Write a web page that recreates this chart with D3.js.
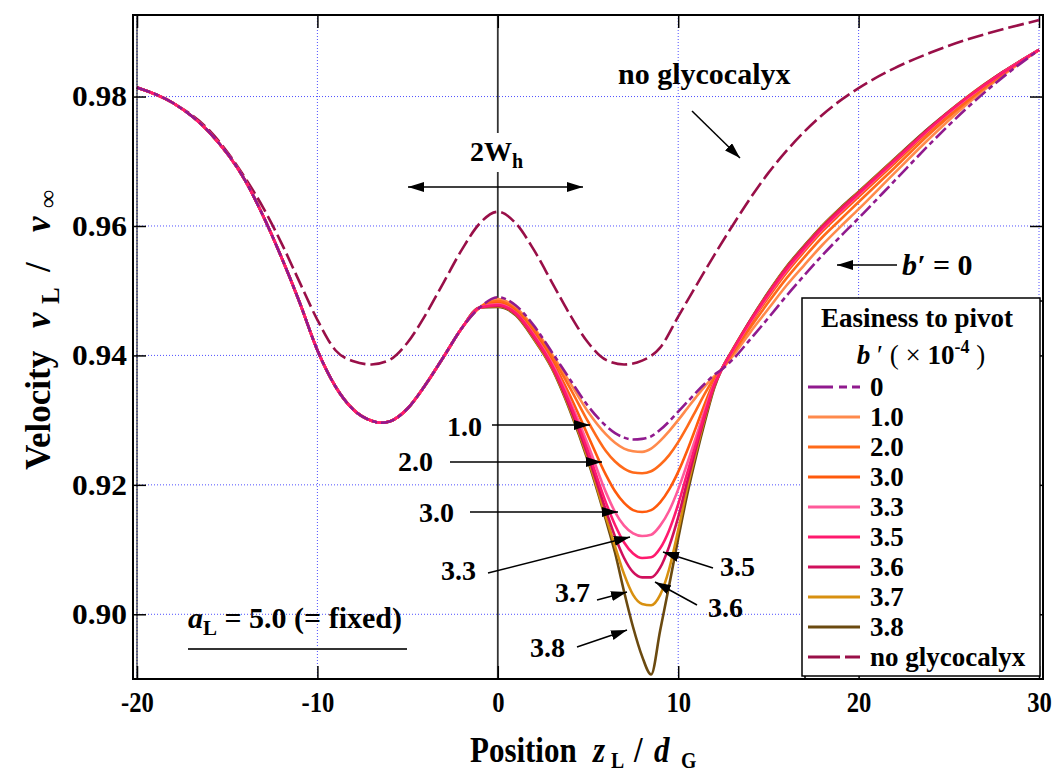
<!DOCTYPE html>
<html>
<head>
<meta charset="utf-8">
<script src="https://cdn.jsdelivr.net/npm/d3@7"></script>
<style>
  body { margin: 0; background: #fff; }
  text { font-family: "Liberation Serif", "Times New Roman", serif; font-weight: bold; fill: #000; }
</style>
</head>
<body>
<div id="chart"></div>
<script>
// valley on the left (z < 0) is the same for every b'
const zLeft = [-20, -18, -16, -14, -13, -12, -11, -10, -9, -8, -7, -6.5, -6, -5, -4, -3, -2, -1];
const vLeft = [0.9814, 0.9790, 0.9745, 0.9670, 0.9615, 0.9552, 0.9483, 0.9408, 0.9352, 0.9316,
               0.9299, 0.9296, 0.9298, 0.9318, 0.9355, 0.9398, 0.9442, 0.9474];

// right part, one array per b' (x 10^-4)
const zRight = [0, 1, 2, 3, 4, 5, 6, 6.5, 7, 7.5, 8, 8.5, 9, 9.5, 10, 10.5, 11, 11.5, 12, 12.4,
                13, 14, 15, 16, 17, 18, 19, 20, 22, 24, 26, 28, 30];
const v00 = [0.9490, 0.9477, 0.9446, 0.9405, 0.9363, 0.9322, 0.9291, 0.9280, 0.9273, 0.9270, 0.9271, 0.9275, 0.9285, 0.9298, 0.9313, 0.9328, 0.9343, 0.9357, 0.9370, 0.9378,
             0.9393, 0.9425, 0.9458, 0.9492, 0.9524, 0.9555, 0.9584, 0.9612, 0.9670, 0.9728, 0.9782, 0.9830, 0.9872];
const v10 = [0.9487, 0.9474, 0.9443, 0.9402, 0.9358, 0.9313, 0.9278, 0.9265, 0.9256, 0.9252, 0.9251, 0.9256, 0.9268, 0.9283, 0.9300, 0.9318, 0.9336, 0.9353, 0.9368, 0.9378,
             0.9398, 0.9436, 0.9472, 0.9508, 0.9540, 0.9571, 0.9599, 0.9626, 0.9682, 0.9737, 0.9788, 0.9833, 0.9872];
const v20 = [0.9484, 0.9471, 0.9440, 0.9398, 0.9350, 0.9298, 0.9252, 0.9236, 0.9225, 0.9219, 0.9218, 0.9221, 0.9231, 0.9246, 0.9266, 0.9290, 0.9316, 0.9342, 0.9365, 0.9378,
             0.9402, 0.9443, 0.9482, 0.9519, 0.9552, 0.9583, 0.9610, 0.9637, 0.9690, 0.9744, 0.9792, 0.9835, 0.9872];
const v30 = [0.9481, 0.9468, 0.9435, 0.9392, 0.9338, 0.9276, 0.9215, 0.9190, 0.9172, 0.9161, 0.9158, 0.9161, 0.9173, 0.9193, 0.9220, 0.9253, 0.9290, 0.9327, 0.9360, 0.9378,
             0.9405, 0.9449, 0.9490, 0.9528, 0.9561, 0.9592, 0.9619, 0.9645, 0.9697, 0.9749, 0.9796, 0.9836, 0.9872];
const v33 = [0.9479, 0.9466, 0.9432, 0.9388, 0.9330, 0.9262, 0.9188, 0.9158, 0.9137, 0.9125, 0.9121, 0.9123, 0.9137, 0.9160, 0.9193, 0.9233, 0.9275, 0.9318, 0.9357, 0.9378,
             0.9406, 0.9451, 0.9493, 0.9531, 0.9564, 0.9595, 0.9622, 0.9648, 0.9700, 0.9751, 0.9797, 0.9837, 0.9872];
const v35 = [0.9478, 0.9465, 0.9430, 0.9385, 0.9325, 0.9252, 0.9172, 0.9138, 0.9111, 0.9094, 0.9087, 0.9088, 0.9102, 0.9130, 0.9170, 0.9218, 0.9265, 0.9312, 0.9355, 0.9378,
             0.9407, 0.9453, 0.9495, 0.9533, 0.9566, 0.9597, 0.9624, 0.9650, 0.9701, 0.9752, 0.9798, 0.9837, 0.9872];
const v36 = [0.9477, 0.9464, 0.9428, 0.9383, 0.9320, 0.9245, 0.9160, 0.9120, 0.9087, 0.9065, 0.9057, 0.9057, 0.9072, 0.9105, 0.9150, 0.9205, 0.9258, 0.9308, 0.9353, 0.9378,
             0.9407, 0.9454, 0.9496, 0.9535, 0.9568, 0.9599, 0.9626, 0.9651, 0.9702, 0.9753, 0.9798, 0.9838, 0.9872];
const v37 = [0.9476, 0.9463, 0.9426, 0.9381, 0.9317, 0.9240, 0.9150, 0.9105, 0.9062, 0.9030, 0.9016, 0.9014, 0.9030, 0.9070, 0.9130, 0.9195, 0.9252, 0.9305, 0.9352, 0.9378,
             0.9408, 0.9454, 0.9497, 0.9536, 0.9569, 0.9600, 0.9627, 0.9652, 0.9703, 0.9753, 0.9799, 0.9838, 0.9872];
const v38 = [0.9475, 0.9462, 0.9425, 0.9380, 0.9315, 0.9237, 0.9145, 0.9095, 0.9035, 0.8980, 0.8935, 0.8907, 0.8975, 0.9045, 0.9117, 0.9185, 0.9245, 0.9300, 0.9350, 0.9378,
             0.9408, 0.9455, 0.9498, 0.9537, 0.9570, 0.9601, 0.9628, 0.9653, 0.9704, 0.9754, 0.9799, 0.9838, 0.9872];

// no glycocalyx
const zNoGly = [-20, -18, -16, -14, -13, -12, -11, -10, -9, -8, -7, -6, -5, -4, -3, -2, -1, 0, 1, 2, 3, 4, 5, 6, 7,
                8, 9, 10, 11, 12, 13, 14, 15, 16, 18, 20, 22, 24, 26, 28, 30];
const vNoGly = [0.9814, 0.9790, 0.9748, 0.9674, 0.9628, 0.9574, 0.9514, 0.9455, 0.9408, 0.9391, 0.9386, 0.9393, 0.9420, 0.9463, 0.9513, 0.9563, 0.9604, 0.9622,
                0.9604, 0.9563, 0.9513, 0.9463, 0.9420, 0.9393, 0.9386, 0.9392, 0.9412, 0.9460, 0.9508, 0.9555, 0.9600, 0.9643, 0.9682, 0.9716,
                0.9772, 0.9813, 0.9844, 0.9868, 0.9888, 0.9904, 0.9918];

const legendLabels = ["0", "1.0", "2.0", "3.0", "3.3", "3.5", "3.6", "3.7", "3.8", "no glycocalyx"];
const xTicks = [-20, -10, 0, 10, 20, 30];
const yTicks = [0.90, 0.92, 0.94, 0.96, 0.98];

const series = [
  { label: "0",   v: v00, color: "#901a8e", dash: "14,4,5,4" },
  { label: "1.0", v: v10, color: "#ff8a4c", dash: null },
  { label: "2.0", v: v20, color: "#ff6a1a", dash: null },
  { label: "3.0", v: v30, color: "#ff5a0c", dash: null },
  { label: "3.3", v: v33, color: "#ff5a9a", dash: null },
  { label: "3.5", v: v35, color: "#ff1a6e", dash: null },
  { label: "3.6", v: v36, color: "#d0105c", dash: null },
  { label: "3.7", v: v37, color: "#d89010", dash: null },
  { label: "3.8", v: v38, color: "#6b4a10", dash: null }
];
const noGly = { label: "no glycocalyx", color: "#990f48", dash: "16,5" };
const drawOrder = ["3.8", "3.7", "1.0", "2.0", "3.0", "3.6", "3.3", "3.5", "0"];

const W = 1056, H = 776;
const svg = d3.select("#chart").append("svg").attr("width", W).attr("height", H);

const x = d3.scaleLinear().domain([-20, 30]).range([137, 1039]);
const y = d3.scaleLinear().domain([0.89, 0.9926]).range([679, 15]);

// squeeze a text element horizontally (the figure's type is narrow)
function squeeze(sel, k) {
  sel.each(function () {
    const w = this.getComputedTextLength();
    d3.select(this).attr("textLength", w * k).attr("lengthAdjust", "spacingAndGlyphs");
  });
}

const defs = svg.append("defs");
defs.append("clipPath").attr("id", "plot").append("rect")
  .attr("x", 133).attr("y", 15).attr("width", 910).attr("height", 664);
defs.append("marker").attr("id", "arr").attr("viewBox", "0 0 16 10")
  .attr("refX", 16).attr("refY", 5).attr("markerWidth", 16).attr("markerHeight", 10)
  .attr("markerUnits", "userSpaceOnUse").attr("orient", "auto-start-reverse")
  .append("path").attr("d", "M0,0 L16,5 L0,10 Z").attr("fill", "#000");

// grid
const grid = svg.append("g");
grid.selectAll(".gx").data(xTicks.filter(d => d !== 0)).enter().append("line")
  .attr("x1", d => x(d)).attr("x2", d => x(d)).attr("y1", 15).attr("y2", 679)
  .attr("stroke", "#5050ff").attr("stroke-width", 1).attr("stroke-dasharray", "1,2");
grid.selectAll(".gy").data(yTicks).enter().append("line")
  .attr("x1", 133).attr("x2", 1043).attr("y1", d => y(d)).attr("y2", d => y(d))
  .attr("stroke", "#5050ff").attr("stroke-width", 1).attr("stroke-dasharray", "1,2");

// z = 0 line
svg.append("line").attr("x1", x(0)).attr("x2", x(0)).attr("y1", 15).attr("y2", 679)
  .attr("stroke", "#333").attr("stroke-width", 1.8);

// axes
const xAxis = svg.append("g").attr("transform", "translate(0,679)")
  .call(d3.axisBottom(x).tickValues(xTicks).tickSize(-13).tickPadding(12).tickFormat(d => String(d)));
const xTop = svg.append("g").attr("transform", "translate(0,15)")
  .call(d3.axisTop(x).tickValues(xTicks).tickSize(-13).tickFormat(""));
const yAxis = svg.append("g").attr("transform", "translate(133,0)")
  .call(d3.axisLeft(y).tickValues(yTicks).tickSize(-13).tickPadding(6).tickFormat(d3.format(".2f")));
const yRight = svg.append("g").attr("transform", "translate(1043,0)")
  .call(d3.axisRight(y).tickValues(yTicks).tickSize(-13).tickFormat(""));
[xAxis, xTop, yAxis, yRight].forEach(g => {
  g.select(".domain").remove();
  g.selectAll(".tick line").attr("stroke", "#000").attr("stroke-width", 1.5);
  g.selectAll("text").attr("font-family", "Liberation Serif").attr("font-weight", "bold").attr("fill", "#000");
});
xAxis.selectAll("text").attr("font-size", 30).call(squeeze, 0.82);
yAxis.selectAll("text").attr("font-size", 29).attr("textLength", 55).attr("lengthAdjust", "spacingAndGlyphs");

// curves
const line = d3.line().x(d => x(d[0])).y(d => y(d[1])).curve(d3.curveMonotoneX);
const curves = svg.append("g").attr("clip-path", "url(#plot)");
curves.append("path")
  .attr("d", line(zNoGly.map((z, i) => [z, vNoGly[i]])))
  .attr("fill", "none").attr("stroke", noGly.color).attr("stroke-width", 2.6)
  .attr("stroke-dasharray", noGly.dash);
drawOrder.forEach(lbl => {
  const s = series.find(d => d.label === lbl);
  const pts = zLeft.map((z, i) => [z, vLeft[i]]).concat(zRight.map((z, i) => [z, s.v[i]]));
  curves.append("path").attr("d", line(pts))
    .attr("fill", "none").attr("stroke", s.color).attr("stroke-width", 2.6)
    .attr("stroke-dasharray", s.dash);
});

// frame
svg.append("rect").attr("x", 133).attr("y", 15).attr("width", 910).attr("height", 664)
  .attr("fill", "none").attr("stroke", "#000").attr("stroke-width", 2);
svg.append("line").attr("x1", 137).attr("x2", 137).attr("y1", 15).attr("y2", 679)
  .attr("stroke", "#000").attr("stroke-width", 1);

// y title, pieces placed along the rotated baseline
const yt = svg.append("g").attr("transform", "translate(50,0) rotate(-90)");
yt.append("text").attr("x", -470).attr("y", 0).attr("font-size", 35).text("Velocity");
yt.append("text").attr("x", -328).attr("y", 0).attr("font-size", 35).attr("font-style", "italic").text("v");
yt.append("text").attr("x", -304).attr("y", 9).attr("font-size", 25).text("L");
yt.append("text").attr("x", -272).attr("y", 0).attr("font-size", 35).text("/");
yt.append("text").attr("x", -232).attr("y", 0).attr("font-size", 35).attr("font-style", "italic").text("v");
yt.append("text").attr("x", -208).attr("y", 6).attr("font-size", 25).text("∞");

// x title (kept a little above the bottom edge so nothing is cut)
const xt = svg.append("g");
xt.append("text").attr("x", 470).attr("y", 762).attr("font-size", 36).text("Position").call(squeeze, 0.86);
xt.append("text").attr("x", 593).attr("y", 762).attr("font-size", 36).attr("font-style", "italic").text("z").call(squeeze, 0.86);
xt.append("text").attr("x", 611).attr("y", 768).attr("font-size", 23).text("L").call(squeeze, 0.86);
xt.append("text").attr("x", 634).attr("y", 762).attr("font-size", 36).text("/").call(squeeze, 0.86);
xt.append("text").attr("x", 654).attr("y", 762).attr("font-size", 36).attr("font-style", "italic").text("d").call(squeeze, 0.86);
xt.append("text").attr("x", 681).attr("y", 768).attr("font-size", 23).text("G").call(squeeze, 0.86);

// 2W_h
svg.append("rect").attr("x", 465).attr("y", 133).attr("width", 66).attr("height", 39).attr("fill", "#fff");
const wh = svg.append("text").attr("x", 470).attr("y", 161).attr("font-size", 28);
wh.append("tspan").text("2W");
wh.append("tspan").attr("font-size", 20).attr("dy", 7).text("h");
svg.append("line").attr("x1", 408).attr("x2", 583).attr("y1", 187).attr("y2", 187)
  .attr("stroke", "#000").attr("stroke-width", 1.5)
  .attr("marker-start", "url(#arr)").attr("marker-end", "url(#arr)");

// annotations with arrows
const notes = [
  { t: "no glycocalyx", tx: 618, ty: 84, a: [692, 111, 740, 158] },
  { t: "1.0", tx: 447, ty: 436, a: [492, 425, 590, 425] },
  { t: "2.0", tx: 398, ty: 471, a: [450, 462, 602, 462] },
  { t: "3.0", tx: 419, ty: 522, a: [470, 512, 618, 512] },
  { t: "3.3", tx: 441, ty: 580, a: [488, 573, 630, 537] },
  { t: "3.5", tx: 720, ty: 576, a: [713, 568, 663, 552] },
  { t: "3.6", tx: 708, ty: 617, a: [697, 605, 655, 582] },
  { t: "3.7", tx: 555, ty: 602, a: [597, 600, 627, 592] },
  { t: "3.8", tx: 530, ty: 657, a: [577, 647, 627, 630] }
];
notes.forEach(n => {
  svg.append("text").attr("x", n.tx).attr("y", n.ty).attr("font-size", n.t.length > 4 ? 30 : 28).text(n.t);
  svg.append("line").attr("x1", n.a[0]).attr("y1", n.a[1]).attr("x2", n.a[2]).attr("y2", n.a[3])
    .attr("stroke", "#000").attr("stroke-width", 1.5).attr("marker-end", "url(#arr)");
});
const bz = svg.append("text").attr("x", 902).attr("y", 275).attr("font-size", 30);
bz.append("tspan").attr("font-style", "italic").text("b′");
bz.append("tspan").text(" = 0");
svg.append("line").attr("x1", 897).attr("x2", 837).attr("y1", 265).attr("y2", 265)
  .attr("stroke", "#000").attr("stroke-width", 1.5).attr("marker-end", "url(#arr)");

// a_L = 5.0 (= fixed)
const al = svg.append("text").attr("x", 188).attr("y", 628).attr("font-size", 30);
al.append("tspan").attr("font-style", "italic").text("a");
al.append("tspan").attr("font-size", 21).attr("dy", 7).text("L");
al.append("tspan").attr("dy", -7).text(" = 5.0 (= fixed)");
svg.append("line").attr("x1", 188).attr("x2", 407).attr("y1", 649).attr("y2", 649)
  .attr("stroke", "#333").attr("stroke-width", 2);

// legend
const lg = svg.append("g");
lg.append("rect").attr("x", 805).attr("y", 301).attr("width", 238).attr("height", 378)
  .attr("fill", "none").attr("stroke", "#000").attr("stroke-width", 1.5);
lg.append("rect").attr("x", 802).attr("y", 298).attr("width", 238).attr("height", 378)
  .attr("fill", "#fff").attr("stroke", "#000").attr("stroke-width", 1.5);
lg.append("text").attr("x", 917).attr("y", 327).attr("text-anchor", "middle").attr("font-size", 27)
  .text("Easiness to pivot");
const lt = lg.append("text").attr("x", 921).attr("y", 364).attr("text-anchor", "middle").attr("font-size", 27);
lt.append("tspan").attr("font-style", "italic").text("b");
lt.append("tspan").attr("font-weight", "normal").text(" ′ ( × ");
lt.append("tspan").text("10");
lt.append("tspan").attr("font-size", 18).attr("dy", -11).text("-4");
lt.append("tspan").attr("font-weight", "normal").attr("dy", 11).text(" )");

const legendItems = series.concat([noGly]);
legendItems.forEach((s, i) => {
  const yy = 387 + i * 30;
  lg.append("line").attr("x1", 808).attr("x2", 860).attr("y1", yy).attr("y2", yy)
    .attr("stroke", s.color).attr("stroke-width", 3)
    .attr("stroke-dasharray", s === noGly ? "32,5" : (s.dash ? "25,6,8,5" : null));
  lg.append("text").attr("x", 870).attr("y", yy).attr("dy", "0.35em").attr("font-size", 27)
    .text(legendLabels[i]);
});
</script>
</body>
</html>
